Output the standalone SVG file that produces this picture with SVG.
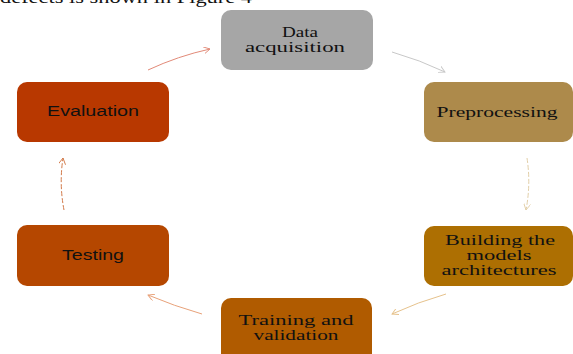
<svg xmlns="http://www.w3.org/2000/svg" width="573" height="354" viewBox="0 0 573 354">
<style>
.serif{font-family:"Liberation Serif","Times New Roman",serif;font-size:15px;fill:#111;text-anchor:middle}
.sans{font-family:"Liberation Sans",Arial,sans-serif;font-size:14px;fill:#111;text-anchor:middle}
.c{fill:none;stroke-width:1}
</style>
<defs>
<marker id="a1" viewBox="0 0 10 10" refX="9" refY="5" markerWidth="7" markerHeight="7" orient="auto" markerUnits="userSpaceOnUse"><path d="M0,0 L9,5 L0,10" fill="none" stroke="#c8c8c8" stroke-width="1.3"/></marker>
<marker id="a2" viewBox="0 0 10 10" refX="9" refY="5" markerWidth="7" markerHeight="7" orient="auto" markerUnits="userSpaceOnUse"><path d="M0,0 L9,5 L0,10" fill="none" stroke="#e2cfa8" stroke-width="1.3"/></marker>
<marker id="a3" viewBox="0 0 10 10" refX="9" refY="5" markerWidth="7" markerHeight="7" orient="auto" markerUnits="userSpaceOnUse"><path d="M0,0 L9,5 L0,10" fill="none" stroke="#e6c28c" stroke-width="1.3"/></marker>
<marker id="a4" viewBox="0 0 10 10" refX="9" refY="5" markerWidth="7" markerHeight="7" orient="auto" markerUnits="userSpaceOnUse"><path d="M0,0 L9,5 L0,10" fill="none" stroke="#e8a27a" stroke-width="1.3"/></marker>
<marker id="a5" viewBox="0 0 10 10" refX="9" refY="5" markerWidth="7" markerHeight="7" orient="auto" markerUnits="userSpaceOnUse"><path d="M0,0 L9,5 L0,10" fill="none" stroke="#d27a4a" stroke-width="1.3"/></marker>
<marker id="a6" viewBox="0 0 10 10" refX="9" refY="5" markerWidth="7" markerHeight="7" orient="auto" markerUnits="userSpaceOnUse"><path d="M0,0 L9,5 L0,10" fill="none" stroke="#e28a78" stroke-width="1.3"/></marker>
</defs>
<text x="0" y="3" textLength="252" lengthAdjust="spacingAndGlyphs" style="font-family:'Liberation Serif',serif;font-size:17px;fill:#111">defects is shown in Figure 4</text>
<g id="connectors">
<path class="c" d="M392,52 Q420,60 445,72" stroke="#c8c8c8" marker-end="url(#a1)"/>
<path class="c" d="M527,158 Q531,184 526,210" stroke="#e2cfa8" stroke-dasharray="5,2" marker-end="url(#a2)"/>
<path class="c" d="M446,294 Q418,302 392,314" stroke="#e6c28c" marker-end="url(#a3)"/>
<path class="c" d="M202,314 Q174,306 148,295" stroke="#e8a27a" marker-end="url(#a4)"/>
<path class="c" d="M64,210 Q59,184 63,158" stroke="#d27a4a" stroke-dasharray="5,2" marker-end="url(#a5)"/>
<path class="c" d="M148,70 Q178,56 210,49" stroke="#e28a78" marker-end="url(#a6)"/>
</g>
<g id="data-acquisition">
<rect x="221" y="10" width="152" height="60" rx="10" fill="#a6a6a6"/>
<text class="serif" x="300" y="37" textLength="36" lengthAdjust="spacingAndGlyphs">Data</text>
<text class="serif" x="295" y="52" textLength="100" lengthAdjust="spacingAndGlyphs">acquisition</text>
</g>
<g id="preprocessing">
<rect x="424" y="82" width="149" height="60" rx="10" fill="#ad8a4b"/>
<text class="serif" x="497" y="117" textLength="121" lengthAdjust="spacingAndGlyphs">Preprocessing</text>
</g>
<g id="building">
<rect x="424" y="226" width="149" height="60" rx="10" fill="#ad6f02"/>
<text class="serif" x="500" y="245" textLength="110" lengthAdjust="spacingAndGlyphs">Building the</text>
<text class="serif" x="499" y="260" textLength="65" lengthAdjust="spacingAndGlyphs">models</text>
<text class="serif" x="499" y="275" textLength="115" lengthAdjust="spacingAndGlyphs">architectures</text>
</g>
<g id="training">
<rect x="221" y="298" width="151" height="66" rx="10" fill="#b05b00"/>
<text class="serif" x="296" y="325" textLength="115" lengthAdjust="spacingAndGlyphs">Training and</text>
<text class="serif" x="296" y="340" textLength="85" lengthAdjust="spacingAndGlyphs">validation</text>
</g>
<g id="testing">
<rect x="17" y="225" width="152" height="61" rx="10" fill="#b54700"/>
<text class="sans" x="93" y="260" textLength="62" lengthAdjust="spacingAndGlyphs">Testing</text>
</g>
<g id="evaluation">
<rect x="17" y="82" width="152" height="60" rx="10" fill="#b83800"/>
<text class="sans" x="93" y="116" textLength="92" lengthAdjust="spacingAndGlyphs">Evaluation</text>
</g>
</svg>
